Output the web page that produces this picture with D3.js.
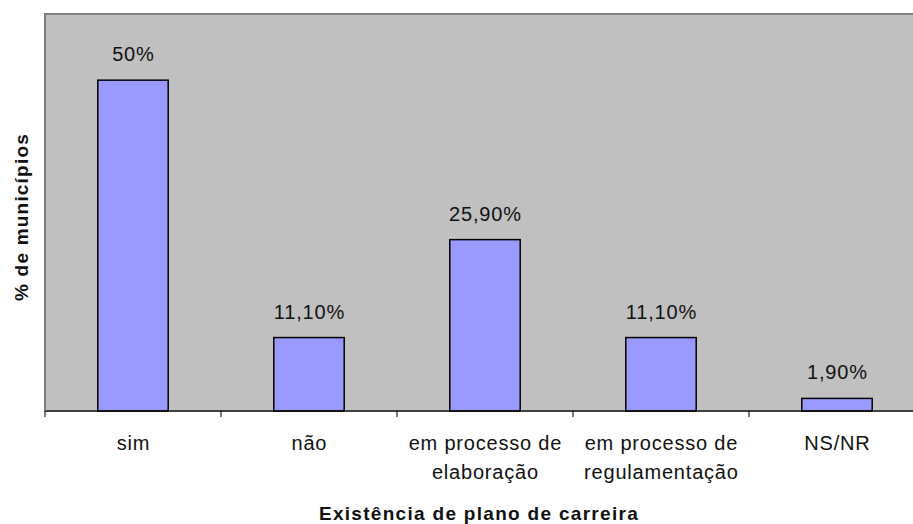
<!DOCTYPE html>
<html><head><meta charset="utf-8">
<script src="https://cdn.jsdelivr.net/npm/d3@7"></script>
<style>body{margin:0;background:#fff}svg{display:block;font-family:Arial,"Liberation Sans",sans-serif}</style>
</head><body><svg id="c" width="913" height="524"></svg>
<script>
const categories = [["sim"],["não"],["em processo de","elaboração"],["em processo de","regulamentação"],["NS/NR"]];
const values = [50, 11.1, 25.9, 11.1, 1.9];
const valueLabels = ["50%","11,10%","25,90%","11,10%","1,90%"];
const xTitle = "Existência de plano de carreira";
const yTitle = "% de municípios";

const svg = d3.select("#c");
const m = {left:45, top:14, right:925, bottom:411};
const x = d3.scaleBand().domain(d3.range(categories.length)).range([m.left, m.right]).paddingInner(0).paddingOuter(0);
const y = d3.scaleLinear().domain([0,60]).range([m.bottom, m.top]);

svg.append("rect").attr("x",m.left).attr("y",m.top).attr("width",m.right-m.left).attr("height",m.bottom-m.top)
  .attr("fill","#c0c0c0").attr("stroke","#808080").attr("stroke-width",2);

const bw = x.bandwidth()*0.4;
svg.selectAll("rect.bar").data(values).join("rect").attr("class","bar")
  .attr("x",(d,i)=>x(i)+x.bandwidth()/2-bw/2).attr("width",bw)
  .attr("y",d=>y(d)).attr("height",d=>y(0)-y(d))
  .attr("fill","#9999ff").attr("stroke","#000").attr("stroke-width",1.5);

svg.selectAll("text.vl").data(values).join("text").attr("class","vl")
  .attr("x",(d,i)=>x(i)+x.bandwidth()/2+0.4).attr("y",d=>y(d)-19)
  .attr("text-anchor","middle").attr("font-size",20).attr("letter-spacing",0.8).attr("fill","#111")
  .text((d,i)=>valueLabels[i]);

// x axis
const xa = svg.append("g").attr("transform",`translate(0,${m.bottom})`);
xa.append("line").attr("x1",m.left).attr("x2",m.right).attr("stroke","#000").attr("stroke-width",1);
const tickPos = d3.range(categories.length+1).map(i=> i<categories.length ? x(i) : m.right);
xa.selectAll("line.t").data(tickPos).join("line").attr("class","t")
  .attr("x1",d=>d).attr("x2",d=>d).attr("y1",0).attr("y2",6).attr("stroke","#000");
categories.forEach((c,i)=>{
  const cx = x(i)+x.bandwidth()/2+0.4;
  const t = xa.append("text").attr("x",cx).attr("y",39)
    .attr("text-anchor","middle").attr("font-size",20).attr("letter-spacing",0.8).attr("fill","#111");
  c.forEach((line,j)=>t.append("tspan").attr("x",cx).attr("dy",j?29:0).text(line));
});
// left axis line
svg.append("line").attr("x1",m.left).attr("x2",m.left).attr("y1",m.top).attr("y2",m.bottom).attr("stroke","#808080").attr("stroke-width",1);

svg.append("text").attr("x",479).attr("y",520).attr("text-anchor","middle").attr("font-size",19).attr("letter-spacing",1.3).attr("font-weight","bold").attr("fill","#111").text(xTitle);
svg.append("text").attr("transform","translate(28,217) rotate(-90)").attr("text-anchor","middle").attr("font-size",19).attr("letter-spacing",1.2).attr("font-weight","bold").attr("fill","#111").text(yTitle);
</script></body></html>
